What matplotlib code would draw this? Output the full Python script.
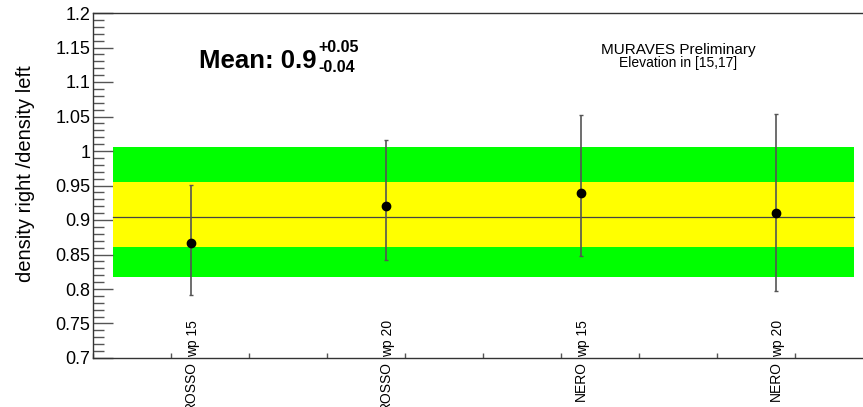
import numpy as np
import matplotlib.pyplot as plt
import matplotlib.transforms as mtransforms

plt.rcParams['font.family'] = ['Liberation Sans', 'DejaVu Sans']

# detector / working point for each measurement
names = ["ROSSO", "ROSSO", "NERO", "NERO"]
wps = ["wp 15", "wp 20", "wp 15", "wp 20"]
x_pos = np.array([0.5, 1.5, 2.5, 3.5])

# density right / density left with asymmetric errors
ratio = np.array([0.866, 0.921, 0.939, 0.910])
err_up = np.array([0.085, 0.095, 0.113, 0.144])
err_down = np.array([0.074, 0.079, 0.091, 0.113])

# weighted mean and its 1 and 2 sigma bands
mean = 0.905
band1 = [0.861, 0.955]
band2 = [0.818, 1.006]
band_x = [0.1, 3.9]

fig = plt.figure(figsize=(8.63, 4.07), dpi=100)
ax = fig.add_axes([93 / 863, 49 / 407, 780 / 863, 345 / 407])

ax.fill_between(band_x, band2[0], band2[1], color='#00ff00', lw=0, zorder=1)
ax.fill_between(band_x, band1[0], band1[1], color='#ffff00', lw=0, zorder=2)
ax.plot(band_x, [mean, mean], color='#444444', lw=0.9, zorder=3)

ax.errorbar(x_pos, ratio, yerr=[err_down, err_up], fmt='o', color='black',
            ecolor='#555555', elinewidth=1.2, capsize=1.5, capthick=1.0,
            markersize=6, zorder=4)

ax.set_xlim(0, 4)
ax.set_ylim(0.7, 1.2)

ax.spines['right'].set_visible(False)
for s in ['left', 'bottom', 'top']:
    ax.spines[s].set_color('#333333')
    ax.spines[s].set_linewidth(1.0)

ax.set_yticks(np.arange(0.7, 1.2001, 0.05))
ax.set_yticklabels(['0.7', '0.75', '0.8', '0.85', '0.9', '0.95', '1',
                    '1.05', '1.1', '1.15', '1.2'])
ax.set_yticks(np.arange(0.7, 1.2001, 0.01), minor=True)
ax.tick_params(axis='y', which='major', direction='in', length=14.5,
               width=1.0, color='#555555', labelsize=13, pad=2)
ax.tick_params(axis='y', which='minor', direction='in', length=8,
               width=1.0, color='#555555')

ax.set_xticks(np.arange(0, 4.01, 0.4))
ax.tick_params(axis='x', which='major', direction='in', length=3.5,
               width=1.0, color='#555555', labelbottom=False)

ax.set_ylabel("density right /density left", fontsize=14.5)
ax.yaxis.set_label_coords(-0.075, 0.535)

# category labels, name below the axis and working point above it
trans = mtransforms.blended_transform_factory(ax.transData, ax.transAxes)
shift = mtransforms.offset_copy(trans, fig=fig, x=3, y=0, units='dots')
for xp, nm, wp in zip(x_pos, names, wps):
    ax.text(xp, -0.01, nm, rotation=90, ha='center', va='top',
            fontsize=10, transform=trans)
    ax.text(xp, 0.003, wp, rotation=90, ha='center', va='bottom',
            fontsize=10, transform=shift)

ax.text(0.136, 0.841, "Mean: 0.9", fontsize=18.5, fontweight='bold',
        transform=ax.transAxes, ha='left', va='baseline')
ax.text(0.289, 0.886, "+0.05", fontsize=11.5, fontweight='bold',
        transform=ax.transAxes, ha='left', va='baseline')
ax.text(0.289, 0.830, "-0.04", fontsize=11.5, fontweight='bold',
        transform=ax.transAxes, ha='left', va='baseline')

ax.text(0.75, 0.881, "MURAVES Preliminary", fontsize=11,
        transform=ax.transAxes, ha='center', va='baseline')
ax.text(0.75, 0.843, "Elevation in [15,17]", fontsize=10,
        transform=ax.transAxes, ha='center', va='baseline')

fig.savefig("out.png", dpi=100)
